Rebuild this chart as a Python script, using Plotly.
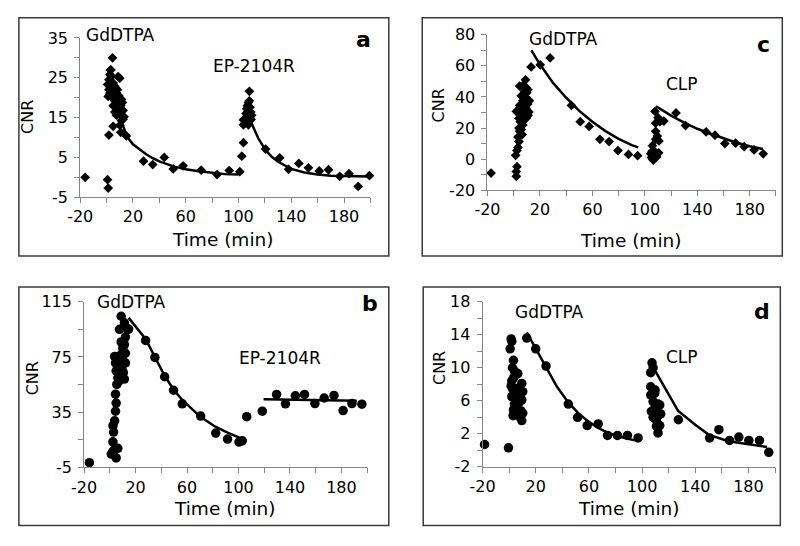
import plotly.graph_objects as go

# ---------------- Data ----------------
# Panel a: GdDTPA then EP-2104R, diamonds
a_time = [-16.25, 0.75, 1.25, 1.75, 4.5, 3, 1.25, 5, 10.75, 15,
          1.75, 3.25, 3.75, 5, 6.25, 8.75, 10, 7.5, 8.25, 9.25, 11.25, 10.75, 8.75, 6.25, 5,
          6.25, 10, 11.25, 12.5, 13.25, 11.25, 7.5, 8.75, 10, 12, 0.75, 1.75, 2.5, 4.25, 2.5, 4, 12.5,
          28, 35, 43.75, 50.5, 58, 71.75, 83.75, 93, 101, 102.5, 103.75,
          103.75, 105, 105.75, 106.25, 106.75, 107.5, 108.25, 108.75, 109.25, 110, 106.25, 107.5,
          103.75, 105, 108.25, 108.75, 107, 109.5,
          120.5, 131.25, 138, 145.75, 153, 161.25, 168.25, 176.75, 183.75, 190.75, 199.25]
a_cnr = [0, -0.6, -2.7, 10.6, 30, 26.9, 20.3, 12.8, 11.3, 10.4,
         24.5, 27, 25.3, 23.7, 22.9, 25.3, 24.9, 21.2, 22, 20.5, 19.6, 18, 18.4, 19.2, 18,
         16.4, 16.4, 15.6, 16.8, 15.2, 14.3, 15.6, 17, 13.1, 18.8, 23.3, 22, 21.2, 20, 25.8, 23, 14.6,
         4.05, 3.2, 5.0, 2.1, 2.9, 1.8, 0.7, 1.7, 1.4, 5.3, 8.7,
         13.2, 14.8, 16, 17.2, 18, 18.8, 19.2, 17.6, 16.4, 15.6, 14, 13.2,
         14.4, 13.6, 21.6, 15.2, 16.5, 14.5,
         7.1, 4.9, 2.0, 3.5, 2.4, 1.6, 1.9, 0.25, 0.9, -2.3, 0.4]
a_fit1_time = [4, 6, 8, 10, 12, 14, 16, 20, 25, 30, 35, 40, 50, 60, 70, 80, 90, 100]
a_fit1_cnr = [23.5, 21.5, 19, 16.5, 13.5, 11.5, 10, 8.3, 7, 5.8, 4.8, 4, 2.8, 2, 1.5, 1.1, 0.8, 0.7]
a_fit2_time = [108, 110, 115, 120, 125, 130, 140, 150, 160, 170, 180, 190, 199]
a_fit2_cnr = [15.5, 13.5, 9.8, 7.1, 5.2, 3.9, 2.1, 1.2, 0.7, 0.4, 0.3, 0.2, 0.2]

# Panel c: GdDTPA then CLP, diamonds
c_time = [-17.25,
          2, 2, 2.5, 1.5, 2.5, 3.25, 4, 3.25, 4.5, 4, 5.75, 5, 4, 2, 3.25, 5.75, 7, 4.5, 5.75, 7,
          8.25, 9, 10, 10.75, 9, 7.5, 9.5, 10.75, 11.5, 9.5, 7, 6.5, 12, 8.25, 9.5, 11, 6.5, 4.5,
          13.25, 20.25, 27.75, 44, 50.75, 57.5, 65.75, 72.75, 79.5, 87.5, 94.5,
          105.75, 104.5, 105, 106, 106.5, 107.5, 108, 109, 105.5, 107.75, 108.25, 108.25, 109.5,
          110.75, 108.25, 111.5, 114.5, 110, 110.5, 107,
          123.75, 131, 146.75, 153.5, 161, 169.25, 175.75, 183.25, 190.25]
c_cnr = [-9,
         -11.1, -8, -4.9, 2.4, 5.5, 7.5, 11.3, 14.2, 17.9, 20, 19, 24.1, 26.2, 30.7, 30.3, 31.3, 28.2, 47, 40.7, 37.6,
         34.5, 39.6, 42.7, 44.8, 51, 47.9, 32.5, 35.5, 30.3, 26.2, 22, 15.8, 37.6, 43.8, 45.8, 28.2, 24.1, 34.5,
         59.3, 60.7, 65.1, 34.5, 24.1, 21, 12.7, 11.3, 5.5, 3, 2.2,
         8.6, 3.4, 1, 0, -0.7, 2.5, 4.4, 1.5, 5, 30.7, 23.1, 17.9, 14.8,
         11.7, 12.7, 24.1, 24.5, 26.6, 4, 1.8,
         29.7, 21.6, 17.5, 15.4, 10, 10.2, 8, 5.9, 3.4]
c_fit1_time = [13.5, 20, 30, 40, 50, 60, 70, 80, 90, 95]
c_fit1_cnr = [70, 61, 49, 39.5, 31, 24, 18, 13, 9, 7.5]
c_fit2_time = [108.5, 120, 130, 140, 150, 160, 170, 180, 190]
c_fit2_cnr = [34, 28, 23.5, 19.5, 16.3, 13.5, 10.5, 8.3, 6.5]

# Panel b: GdDTPA then EP-2104R, circles
b_time = [-15.9,
          1.1, 2.4, 3.7, 4.9, 6.2, 2.4, 2.9, 2.4, 3.7, 4.4, 4.9, 4.4, 5.4, 6.2, 7.5, 4.9, 4.4, 3.7, 6.2,
          8.8, 10, 12.1, 11.3, 9.5, 7.5, 7, 10.5, 12.1, 8.8, 11.3, 12.1, 10, 7.5, 8.8, 11.3, 13.9, 14.6,
          27.8, 35, 42.6, 49.5, 56.3, 70.6, 82.3, 91.5, 100.4, 102.9, 106.4, 118.5,
          129.6, 136.5, 144.2, 151.3, 159.4, 166.6, 174.2, 181.3, 188.2, 195.9]
b_cnr = [-1.5,
         4.7, 6.6, 7.8, 1.9, 8.9, 13.6, 20.6, 25.3, 28.8, 35.7, 41.6, 48.1, 55.1, 59.8, 62.6, 64.9, 70.7, 75.4, 75.4,
         76.5, 73, 70.7, 59, 66, 69.5, 57.4, 63.7, 77.7, 85.9, 84, 89.4, 81.2, 95, 104.5, 99.8, 95, 95.2,
         87, 74.7, 60.7, 50.9, 41.1, 32.2, 19.9, 15.6, 13.4, 14.3, 31.8, 35.8,
         47.9, 41.1, 46.9, 47.9, 41.3, 45.3, 47.2, 36.2, 41.3, 40.8]
b_fit1_time = [14.6, 27.8, 35, 42.6, 49.5, 56.3, 70.6, 82, 91.5, 102]
b_fit1_cnr = [103.3, 88, 75, 61.4, 51.5, 43.9, 31.5, 24.5, 20.3, 16]
b_fit2_time = [119.5, 192]
b_fit2_cnr = [44.4, 43.4]

# Panel d: GdDTPA then CLP, circles
d_time = [-18.5, -0.5,
          1.5, 2, 0.75, 3.25, 2.5, 4, 6.5, 2, 2.75, 5.75, 8.25, 2, 5, 9.5, 4, 3.25, 5.75, 7, 8.25,
          10.25, 9.5, 9.5, 10.25, 4, 6, 7.5, 3, 8.75, 1.5, 3.5,
          13.25, 20, 27.75, 44.5, 51.5, 58.75, 67, 74, 81.5, 89, 97,
          107.5, 108.3, 106.5, 106.5, 106.5, 109.5, 112, 113.3, 108.3, 109.5, 107, 109, 112, 108.3,
          110.8, 113.3, 110.8, 112, 109.8, 114, 111,
          127.3, 150.8, 157.8, 165.8, 172.8, 180.3, 188.3, 195.3]
d_cnr = [0.7, 0.3,
         13.5, 13.2, 12.3, 10.9, 10, 9.6, 9.3, 8.4, 7.4, 7.5, 7.3, 6.5, 6.3, 6.1, 5.6, 4.9, 5.1, 4.5, 4,
         4.5, 3.6, 8.1, 7.1, 7.3, 6.8, 5.8, 4.2, 4.8, 7.8, 8.8,
         13.6, 12.3, 10.2, 5.6, 4, 3, 3.2, 1.8, 1.8, 1.8, 1.5,
         10.6, 10, 9.4, 7.7, 6.7, 6.9, 5.6, 5.5, 5.9, 5.1, 4.7, 4.4, 4.2, 4,
         3.6, 3, 2.9, 2.1, 7.3, 4.4, 5,
         3.7, 1.5, 2.5, 1.2, 1.6, 1.2, 1.2, -0.25]
d_fit1_time = [13.25, 20, 28.25, 36, 44.5, 52, 59.5, 67, 74.5, 84, 94.5]
d_fit1_cnr = [14.3, 12.3, 10, 7.7, 5.8, 4.5, 3.5, 2.7, 2.1, 1.6, 1.2]
d_fit2_time = [110, 127, 140, 150, 165, 180, 194]
d_fit2_cnr = [9.6, 4.8, 3.1, 1.9, 1.1, 0.7, 0.4]

# Tick definitions
x_ticks = list(range(-20, 201, 20))
x_tick_labels = ["-20", "", "20", "", "60", "", "100", "", "140", "", "180", ""]
a_y_ticks = list(range(-5, 36, 5))
a_y_labels = ["-5", "", "5", "", "15", "", "25", "", "35"]
c_y_ticks = list(range(-20, 81, 10))
c_y_labels = ["-20", "", "0", "", "20", "", "40", "", "60", "", "80"]
b_y_ticks = list(range(-5, 116, 20))
b_y_labels = ["-5", "", "35", "", "75", "", "115"]
d_y_ticks = list(range(-2, 19, 2))
d_y_labels = ["-2", "", "2", "", "6", "", "10", "", "14", "", "18"]

W, H = 800, 546
FONT = "DejaVu Sans"

def px(x):
    return x / W

def py(y):
    return 1 - y / H

fig = go.Figure()

panels = [
    dict(ax="", x0=68.3, x1=363.3, yt=30, yb=195, yr=[-5, 35], yt_v=a_y_ticks, yt_l=a_y_labels,
         sym="diamond", size=7.5, t=a_time, v=a_cnr,
         fits=[(a_fit1_time, a_fit1_cnr), (a_fit2_time, a_fit2_cnr)]),
    dict(ax="2", x0=482.3, x1=775.6, yt=26.7, yb=187.7, yr=[-20, 80], yt_v=c_y_ticks, yt_l=c_y_labels,
         sym="diamond", size=7.5, t=c_time, v=c_cnr,
         fits=[(c_fit1_time, c_fit1_cnr), (c_fit2_time, c_fit2_cnr)]),
    dict(ax="3", x0=72.3, x1=360, yt=303.3, yb=475, yr=[-5, 115], yt_v=b_y_ticks, yt_l=b_y_labels,
         sym="circle", size=9.5, t=b_time, v=b_cnr,
         fits=[(b_fit1_time, b_fit1_cnr), (b_fit2_time, b_fit2_cnr)]),
    dict(ax="4", x0=477.3, x1=774.6, yt=303.3, yb=474.3, yr=[-2, 18], yt_v=d_y_ticks, yt_l=d_y_labels,
         sym="circle", size=9.5, t=d_time, v=d_cnr,
         fits=[(d_fit1_time, d_fit1_cnr), (d_fit2_time, d_fit2_cnr)]),
]

layout_axes = {}
for p in panels:
    xa = "x" + p["ax"]
    ya = "y" + p["ax"]
    fig.add_trace(go.Scatter(x=p["t"], y=p["v"], mode="markers", xaxis=xa, yaxis=ya,
                             marker=dict(symbol=p["sym"], size=p["size"], color="black",
                                         line=dict(width=0)),
                             showlegend=False, cliponaxis=False))
    for ft, fv in p["fits"]:
        fig.add_trace(go.Scatter(x=ft, y=fv, mode="lines", xaxis=xa, yaxis=ya,
                                 line=dict(color="black", width=2.5),
                                 showlegend=False, cliponaxis=False))
    common = dict(showgrid=False, zeroline=False, showline=True, linecolor="#868686", linewidth=1,
                  ticks="outside", ticklen=5, tickcolor="#868686", tickwidth=1,
                  tickfont=dict(family=FONT, size=16, color="black"))
    layout_axes["xaxis" + p["ax"]] = dict(domain=[px(p["x0"]), px(p["x1"])], range=[-20, 200],
                                         tickmode="array", tickvals=x_ticks, ticktext=x_tick_labels,
                                         anchor=ya, **common)
    layout_axes["yaxis" + p["ax"]] = dict(domain=[py(p["yb"]), py(p["yt"])], range=p["yr"],
                                         tickmode="array", tickvals=p["yt_v"], ticktext=p["yt_l"],
                                         anchor=xa, ticklabelstandoff=3, **common)

fig.update_layout(**layout_axes)

# Panel frames
frames = [(6, 9, 382, 256), (416, 9, 782, 256), (6, 288, 382, 535), (417, 288, 780, 535)]
shapes = []
for (l, t, r, b) in frames:
    shapes.append(dict(type="rect", xref="paper", yref="paper", x0=px(l), x1=px(r), y0=py(b), y1=py(t),
                       line=dict(color="#3a3a3a", width=1.5), fillcolor="rgba(0,0,0,0)", layer="below"))

ann = []
def text(x, y, s, size=15, bold=False, angle=0):
    ann.append(dict(xref="paper", yref="paper", x=px(x), y=py(y), text=("<b>%s</b>" % s) if bold else s,
                    showarrow=False, xanchor="center", yanchor="middle", textangle=angle,
                    font=dict(family=FONT, size=size, color="black")))

# Labels
text(109, 27, "GdDTPA", 17); text(245, 59, "EP-2104R", 17); text(356, 32, "a", 22, True)
text(560, 31, "GdDTPA", 17); text(680, 78, "CLP", 17); text(763, 37, "c", 22, True)
text(120, 304, "GdDTPA", 17); text(271, 362, "EP-2104R", 17); text(363, 305, "b", 22, True)
text(545, 314, "GdDTPA", 17); text(680, 361, "CLP", 17); text(761, 313, "d", 22, True)
# Axis titles
for (x, y) in [(213, 239), (628, 240), (215, 518), (626, 518)]:
    text(x, y, "Time (min)", 18.5)
for (x, y) in [(14, 112), (433, 100), (20, 383), (433, 372)]:
    text(x, y, "CNR", 16, angle=-90)

fig.update_layout(width=W, height=H, margin=dict(l=0, r=0, t=0, b=0),
                  paper_bgcolor="white", plot_bgcolor="white",
                  shapes=shapes, annotations=ann, showlegend=False)

fig.write_html("out.html", config={"displayModeBar": False},
               post_script="document.body.style.margin='0px';document.body.style.padding='0px';")
